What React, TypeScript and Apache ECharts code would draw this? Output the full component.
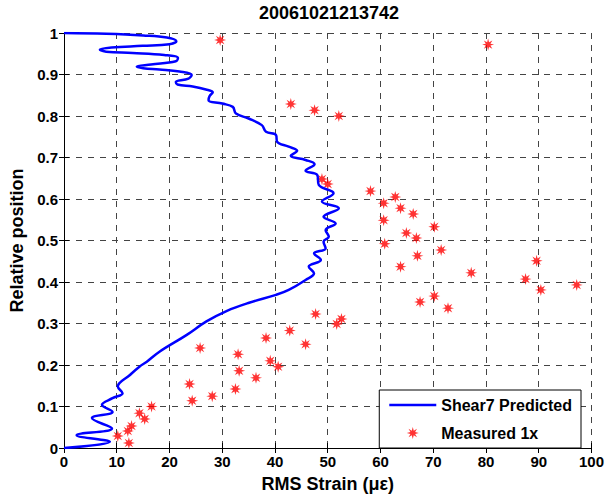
import React, { useEffect, useRef } from "react";
import * as echarts from "echarts";

const chartTitle = "20061021213742";
const xTicks = [0, 10, 20, 30, 40, 50, 60, 70, 80, 90, 100];
const yTicks = [0, 0.1, 0.2, 0.3, 0.4, 0.5, 0.6, 0.7, 0.8, 0.9, 1];

const predictedStrain = [
  0, 8, 15, 19.5, 21.3, 20, 14.9, 9, 6.8, 8, 13, 19, 21.6, 21.2, 16.5, 13.8, 15, 18.1, 21.9,
  24.2, 23.6, 21.2, 21.5, 24.4, 26.9, 28.2, 27.6, 27.4, 30, 32, 32.6, 35, 37.5, 38.3, 40.2,
  40.4, 42.6, 44.2, 43, 45.8, 47.5, 45.8, 48, 48.3, 51.1, 48.9, 52.1, 49.2, 51.5, 49.6, 50.2,
  49.2, 49.6, 47.4, 48.7, 46.4, 47.4, 45.8, 42.6, 40.2, 35.1, 30.8, 27, 23.2, 18.1, 15.7,
  14.3, 12.5, 10.2, 11.1, 9.2, 7.2, 9.2, 5.3, 9.1, 2.4, 8.7, 0,
];
const predictedPosition = [
  1.0, 0.998, 0.994, 0.989, 0.98, 0.973, 0.969, 0.965, 0.96, 0.955, 0.952, 0.947, 0.94,
  0.932, 0.924, 0.919, 0.915, 0.912, 0.907, 0.899, 0.89, 0.882, 0.876, 0.871, 0.864, 0.857,
  0.848, 0.838, 0.83, 0.822, 0.806, 0.794, 0.778, 0.762, 0.754, 0.738, 0.726, 0.716, 0.704,
  0.694, 0.684, 0.668, 0.658, 0.634, 0.614, 0.594, 0.578, 0.557, 0.541, 0.525, 0.509, 0.497,
  0.481, 0.469, 0.453, 0.437, 0.421, 0.405, 0.381, 0.369, 0.35, 0.33, 0.305, 0.272, 0.232,
  0.208, 0.196, 0.176, 0.148, 0.132, 0.12, 0.104, 0.087, 0.072, 0.047, 0.031, 0.015, 0,
];

const measuredStrain = [
  29.6, 80.4, 43.0, 47.5, 52.1, 48.9, 50.0, 58.1, 62.8, 60.6, 63.8, 66.2, 60.6, 70.2, 64.9,
  66.8, 60.8, 71.5, 67.0, 89.6, 63.8, 77.2, 87.5, 97.2, 90.4, 70.2, 67.5, 72.8, 47.7, 52.6,
  51.7, 42.8, 38.3, 45.8, 25.8, 33.0, 39.1, 40.6, 33.2, 36.4, 23.8, 32.5, 28.1, 24.3, 16.6,
  14.3, 15.3, 12.8, 12.1, 10.2, 12.3,
];
const measuredPosition = [
  0.983, 0.972, 0.829, 0.814, 0.8, 0.648, 0.636, 0.619, 0.605, 0.59, 0.578, 0.564, 0.549,
  0.533, 0.518, 0.506, 0.492, 0.477, 0.463, 0.451, 0.437, 0.422, 0.407, 0.393, 0.381, 0.366,
  0.352, 0.337, 0.323, 0.311, 0.299, 0.283, 0.265, 0.25, 0.241, 0.226, 0.21, 0.196, 0.186,
  0.169, 0.154, 0.142, 0.125, 0.114, 0.1, 0.084, 0.07, 0.053, 0.041, 0.029, 0.012,
];

const FONT = "'Liberation Sans', Arial, sans-serif";

function starSymbol(): string {
  const pts: string[] = [];
  for (let k = 0; k < 16; k++) {
    const a = (k * Math.PI) / 8;
    const r = k % 2 === 0 ? 10 : 4.2;
    const x = 10 + r * Math.cos(a);
    const y = 10 - r * Math.sin(a);
    pts.push(`${k === 0 ? "M" : "L"}${x.toFixed(2)},${y.toFixed(2)}`);
  }
  return "path://" + pts.join("") + "Z";
}

export default function App() {
  const ref = useRef<HTMLDivElement>(null);
  useEffect(() => {
    if (!ref.current) return;
    const chart = echarts.init(ref.current, undefined, { renderer: "svg" });
    const gridDash = { type: [6, 6] as number[], color: "#444", width: 1 };
    const tickLabel = { fontFamily: FONT, fontWeight: "bold" as const, fontSize: 15, color: "#000" };
    const fmtY = (v: number) => {
      const idx = yTicks.findIndex((t) => Math.abs(t - v) < 1e-6);
      return idx >= 0 ? String(yTicks[idx]) : "";
    };
    const fmtX = (v: number) => {
      const idx = xTicks.findIndex((t) => Math.abs(t - v) < 1e-6);
      return idx >= 0 ? String(xTicks[idx]) : "";
    };
    const star = starSymbol();
    chart.setOption({
      animation: false,
      backgroundColor: "#fff",
      grid: { left: 64, right: 13, top: 33, bottom: 53, show: false },
      graphic: [
        {
          type: "text",
          x: 329,
          y: 13,
          style: {
            text: chartTitle,
            align: "center",
            verticalAlign: "middle",
            font: `bold 18px ${FONT}`,
            fill: "#000",
          },
        },
      ],
      legend: {
        orient: "vertical",
        right: 26,
        top: 390,
        align: "left",
        itemWidth: 47,
        itemHeight: 12,
        itemGap: 12,
        padding: [7, 9, 7, 10],
        borderColor: "#000",
        borderWidth: 1,
        backgroundColor: "#fff",
        textStyle: { fontFamily: FONT, fontWeight: "bold", fontSize: 16, color: "#000" },
        data: [
          {
            name: "Shear7 Predicted",
            icon: "path://M0,0L47,0L47,2.4L0,2.4Z",
            itemStyle: { color: "#0000ff" },
          },
          { name: "Measured 1x" },
        ],
      },
      xAxis: [
        {
          type: "value",
          min: 0,
          max: 100,
          interval: 10,
          name: "RMS Strain (\u03bc\u03b5)",
          nameLocation: "middle",
          nameGap: 27,
          nameTextStyle: { fontFamily: FONT, fontWeight: "bold", fontSize: 18, color: "#000" },
          axisLine: { show: true, lineStyle: { color: "#000", width: 1 } },
          axisTick: { show: true, inside: true, length: 5, lineStyle: { color: "#000" } },
          axisLabel: { ...tickLabel, margin: 6, formatter: fmtX },
          splitLine: { show: true, lineStyle: gridDash },
        },
        {
          type: "value",
          position: "top",
          min: 0,
          max: 100,
          interval: 10,
          axisLine: { show: true, lineStyle: { color: "#000", width: 1 } },
          axisTick: { show: true, inside: true, length: 5, lineStyle: { color: "#000" } },
          axisLabel: { show: false },
          splitLine: { show: false },
        },
      ],
      yAxis: [
        {
          type: "value",
          min: 0,
          max: 1,
          interval: 0.1,
          name: "Relative position",
          nameLocation: "middle",
          nameGap: 37,
          nameTextStyle: { fontFamily: FONT, fontWeight: "bold", fontSize: 18, color: "#000" },
          axisLine: { show: true, lineStyle: { color: "#000", width: 1 } },
          axisTick: { show: true, inside: true, length: 5, lineStyle: { color: "#000" } },
          axisLabel: { ...tickLabel, margin: 6, formatter: fmtY },
          splitLine: { show: true, lineStyle: gridDash },
        },
        {
          type: "value",
          position: "right",
          min: 0,
          max: 1,
          interval: 0.1,
          axisLine: { show: true, lineStyle: { color: "#000", width: 1 } },
          axisTick: { show: true, inside: true, length: 5, lineStyle: { color: "#000" } },
          axisLabel: { show: false },
          splitLine: { show: false },
        },
      ],
      series: [
        {
          name: "Shear7 Predicted",
          type: "line",
          xAxisIndex: 0,
          yAxisIndex: 0,
          smooth: 0.4,
          symbol: "none",
          showSymbol: false,
          lineStyle: { color: "#0000ff", width: 2.5 },
          itemStyle: { color: "#0000ff" },
          data: predictedStrain.map((x, i) => [x, predictedPosition[i]]),
        },
        {
          name: "Measured 1x",
          type: "scatter",
          xAxisIndex: 0,
          yAxisIndex: 0,
          symbol: star,
          symbolSize: 12,
          itemStyle: { color: "#ff0000" },
          data: measuredStrain.map((x, i) => [x, measuredPosition[i]]),
        },
      ],
    });
    return () => chart.dispose();
  }, []);
  return (
    <div
      ref={ref}
      style={{ position: "fixed", left: 0, top: 0, width: 607, height: 501, background: "#fff" }}
    />
  );
}
